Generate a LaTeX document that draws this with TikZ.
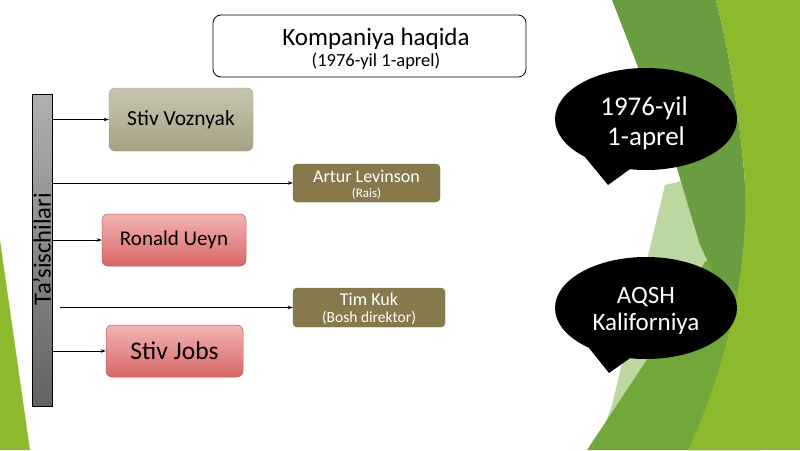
\documentclass[tikz,border=0pt]{standalone}
\usepackage{fontspec}
\setmainfont{Carlito}
\usetikzlibrary{shapes.geometric,arrows.meta}
\definecolor{grbright}{HTML}{8CBA2C}
\definecolor{grmid}{HTML}{6A9C40}
\definecolor{grbot}{HTML}{72A83A}
\definecolor{grpale}{HTML}{BCD8A0}
\newcommand{\fs}[1]{\fontsize{#1}{#1}\selectfont}
\definecolor{C8C5B0}{HTML}{C8C5B0}
\definecolor{A6A286}{HTML}{A6A286}
\definecolor{A09C84}{HTML}{A09C84}
\definecolor{867A4C}{HTML}{867A4C}
\definecolor{7A6F44}{HTML}{7A6F44}
\definecolor{F2B4B4}{HTML}{F2B4B4}
\definecolor{D86666}{HTML}{D86666}
\definecolor{C25555}{HTML}{C25555}
\definecolor{barTop}{HTML}{B0B0B0}
\definecolor{barBot}{HTML}{626262}
\tikzset{
  x=1pt, y=-1pt,
  khaki/.style={rectangle, rounded corners=6pt, top color=C8C5B0, bottom color=A6A286, draw=A09C84, line width=0.4pt, inner sep=0pt, minimum width=144pt, minimum height=63pt, text=black},
  olive/.style={rectangle, rounded corners=4pt, fill=867A4C, draw=7A6F44, line width=0.4pt, inner sep=0pt, text=white},
  redbox/.style={rectangle, rounded corners=6pt, top color=F2B4B4, bottom color=D86666, draw=C25555, line width=0.5pt, inner sep=0pt, minimum height=52pt, text=black},
  bubble/.style={ellipse, fill=black, inner sep=0pt, minimum width=182pt, minimum height=102pt},
  txt/.style={inner sep=0pt, anchor=base},
  conn/.style={line width=0.8pt, black, -{Stealth[length=5pt,width=3.5pt]}},
}
\begin{document}
\begin{tikzpicture}
\useasboundingbox (0,0) rectangle (800,450);
\fill[white] (0,0) rectangle (800,450);
% background greens
\fill[grpale] (665,185) -- (686,180) -- (712,258) -- (650,360) -- (603,430) -- (612,405) -- cycle;
\fill[grbot] (587,450) -- (650,355) -- (705,262) -- (740,240) -- (760,240) -- (760,450) -- cycle;
\fill[grmid] (612,0) -- (716,0) .. controls (726,40) and (736,90) .. (743,160) .. controls (749,220) and (746,260) .. (738,292) -- (716,278) -- (700,245) -- (676,165) -- cycle;
\fill[grbright] (716,0) -- (800,0) -- (800,450) -- (688,450) .. controls (730,360) and (753,250) .. (743,160) .. controls (736,90) and (726,40) .. (716,0) -- cycle;
\fill[grbright] (0,240) -- (30,450) -- (0,450) -- cycle;

% title
\node[draw=black, line width=0.8pt, fill=white, rounded corners=8pt, minimum width=313pt, minimum height=62pt, inner sep=0pt] (title) at (369.5,46) {};
\node[txt] (title1) at (376,45) {\fs{25}Kompaniya haqida};
\node[txt] (title2) at (376,66) {\fs{18.5}(1976-yil 1-aprel)};

% bar
\node[draw=black, line width=0.6pt, top color=barTop, bottom color=barBot, minimum width=20pt, minimum height=312pt, inner sep=0pt] (bar) at (42,250) {};
\node[rotate=90, inner sep=0pt, text=black] (barlbl) at (42,249) {\fs{24.6}Ta’sischilari};

% boxes
\node[khaki] (sv) at (181,119.5) {\fs{21.5}Stiv Voznyak};
\node[olive, minimum width=147pt, minimum height=38pt] (al) at (366.5,183) {};
\node[txt, text=white] (al1) at (366.5,182) {\fs{18}Artur Levinson};
\node[txt, text=white] (al2) at (366.5,197) {\fs{13}(Rais)};
\node[redbox, minimum width=144pt] (ru) at (174,240) {\fs{21}Ronald Ueyn};
\node[olive, minimum width=152pt, minimum height=39pt] (tk) at (369,307.5) {};
\node[txt, text=white] (tk1) at (369,305) {\fs{18}Tim Kuk};
\node[txt, text=white] (tk2) at (369,322) {\fs{15.5}(Bosh direktor)};
\node[redbox, minimum width=137pt] (sj) at (174.5,351) {\fs{25.5}Stiv Jobs};

% connectors
\draw[conn] (bar.east |- sv) -- (sv.west);
\draw[conn] (bar.east |- al) -- (al.west);
\draw[conn] (bar.east |- ru) -- (ru.west);
\coordinate (tkstart) at (60,307.5);
\draw[conn] (tkstart) -- (tk.west);
\draw[conn] (bar.east |- sj) -- (sj.west);

% bubbles
\node[bubble] (b1) at (646,119) {};
\coordinate (t1) at (608,185);
\fill[black] (b1.center) -- (b1.212) -- (t1) -- (b1.252) -- cycle;
\node[txt, text=white] (b1a) at (644,115) {\fs{27}1976-yil};
\node[txt, text=white] (b1b) at (646,145) {\fs{27}1-aprel};
\node[bubble] (b2) at (646,308) {};
\coordinate (t2) at (609,373);
\fill[black] (b2.center) -- (b2.215) -- (t2) -- (b2.252) -- cycle;
\node[txt, text=white] (b2a) at (646,303) {\fs{25}AQSH};
\node[txt, text=white] (b2b) at (646,330) {\fs{25}Kaliforniya};
\end{tikzpicture}
\end{document}
